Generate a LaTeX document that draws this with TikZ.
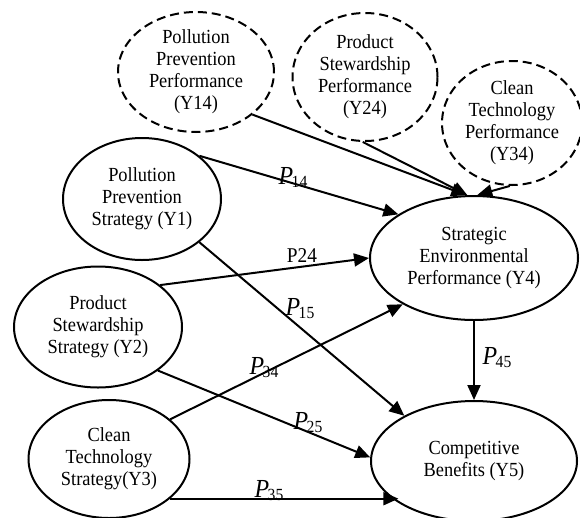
\documentclass[tikz,border=0pt]{standalone}
\usepackage{fontspec}
\setmainfont{Liberation Serif}[FakeStretch=0.92]
\usetikzlibrary{arrows.meta,shapes.geometric}
\newcommand{\pcoef}[1]{{\fontsize{26}{26}\selectfont\itshape P}\kern-1.5pt\raisebox{-3pt}{\fontsize{17}{17}\selectfont #1}}

\begin{document}
\begin{tikzpicture}[x=1pt,y=-1pt,line width=2pt,font=\fontsize{20}{22}\selectfont,
  latent/.style={draw,ellipse,align=center,inner sep=0pt},
  perf/.style={latent,dash pattern=on 9pt off 5pt},
  effect/.style={-{Triangle[length=15pt,width=13pt]}}]
\useasboundingbox (0,0) rectangle (580,517);
% performance constructs (dashed)
\node[perf,minimum width=156pt,minimum height=120pt] (y14) at (196,72) {Pollution\\Prevention\\Performance\\(Y14)};
\node[perf,minimum width=145pt,minimum height=128pt] (y24) at (365,77) {Product\\Stewardship\\Performance\\(Y24)};
\node[perf,minimum width=140pt,minimum height=124pt] (y34) at (512,123) {Clean\\Technology\\Performance\\(Y34)};
% strategies
\node[latent,minimum width=158pt,minimum height=122pt] (y1) at (142,199) {Pollution\\Prevention\\Strategy (Y1)};
\node[latent,minimum width=168pt,minimum height=121pt] (y2) at (98,327) {Product\\Stewardship\\Strategy (Y2)};
\node[latent,minimum width=161pt,minimum height=118pt] (y3) at (109,459) {Clean\\Technology\\Strategy(Y3)};
\node[latent,minimum width=208pt,minimum height=124pt] (y4) at (474,258) {Strategic\\Environmental\\Performance (Y4)};
\node[latent,minimum width=206pt,minimum height=120pt] (y5) at (474,461) {Competitive\\Benefits (Y5)};
% paths
\draw[effect] (y14.-37) -- (y4.97);
\draw[effect] (y24.-92) -- (y4.96);
\draw[effect] (y34.-92) -- (y4.87);
\draw[effect] (y1.37) -- (y4.150);
\draw[effect] (y1.-37) -- (y5.147);
\draw[effect] (y2.34) -- (y4.180);
\draw[effect] (y2.-36) -- (y5.178);
\draw[effect] (y3.33) -- (y4.213);
\draw[effect] (y3.-33) -- (y3.-33 -| y5.209);
\draw[effect] (y4.south) -- (y5.north);
\node (p14) at (293,177) {\pcoef{14}};
\node (p24) at (302,256) {\fontsize{21}{21}\selectfont P24};
\node (p15) at (300,309) {\pcoef{15}};
\node (p34) at (264,368) {\pcoef{34}};
\node (p25) at (308,423) {\pcoef{25}};
\node (p35) at (269,491) {\pcoef{35}};
\node (p45) at (497,358) {\pcoef{45}};
\end{tikzpicture}
\end{document}
